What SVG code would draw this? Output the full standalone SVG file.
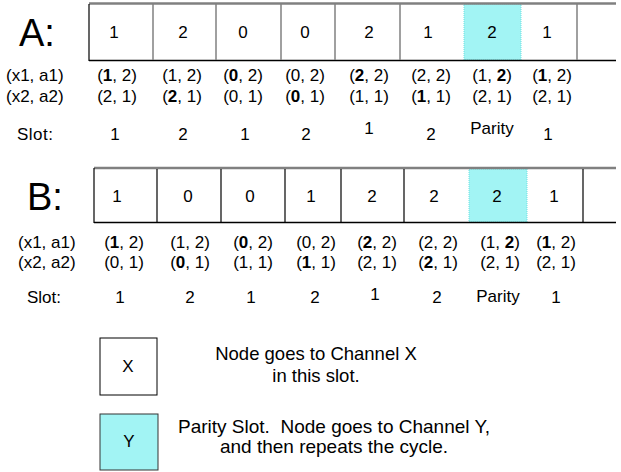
<svg xmlns="http://www.w3.org/2000/svg" width="621" height="472" viewBox="0 0 621 472">
<style>
text{font-family:"Liberation Sans",Arial,sans-serif;fill:#000}
.big{font-size:38px}
.c{font-size:17px;text-anchor:middle}
.t{font-size:17px;text-anchor:middle}
.l{font-size:17px}
.lg{font-size:18.5px;text-anchor:middle}
.lg2{font-size:19px;text-anchor:middle}
.top{stroke:#808080;stroke-width:2.5}
.bot{stroke:#000;stroke-width:1.5}
.gv{stroke:#808080;stroke-width:1.5}
.bv{stroke:#000;stroke-width:1.2}
.par{fill:#a2f4f4;stroke:#6ee0e0;stroke-width:1;stroke-dasharray:1 1}
</style>
<g id="rowA">
<text class="big" x="19" y="46">A:</text>
<rect class="par" x="464" y="4" width="57" height="56"/>
<line class="top" x1="89" y1="3.5" x2="616" y2="3.5"/>
<line class="bot" x1="89" y1="60.5" x2="616" y2="60.5"/>
<line class="bv" x1="89" y1="4" x2="89" y2="61"/>
<g class="gv">
<line x1="153" y1="4" x2="153" y2="60"/>
<line x1="216" y1="4" x2="216" y2="60"/>
<line x1="281" y1="4" x2="281" y2="60"/>
<line x1="335" y1="4" x2="335" y2="60"/>
<line x1="400" y1="4" x2="400" y2="60"/>
<line x1="577" y1="4" x2="577" y2="60"/>
</g>
<text class="c" x="114" y="38">1</text>
<text class="c" x="183" y="38">2</text>
<text class="c" x="243" y="38">0</text>
<text class="c" x="305" y="38">0</text>
<text class="c" x="369" y="38">2</text>
<text class="c" x="428" y="38">1</text>
<text class="c" x="492" y="38">2</text>
<text class="c" x="547" y="38">1</text>
<text class="l" x="6" y="81">(x1, a1)</text>
<text class="l" x="6" y="102">(x2, a2)</text>
<text class="t" x="117" y="81">(<tspan font-weight="bold">1</tspan>, 2)</text>
<text class="t" x="182" y="81">(1, 2)</text>
<text class="t" x="243" y="81">(<tspan font-weight="bold">0</tspan>, 2)</text>
<text class="t" x="305" y="81">(0, 2)</text>
<text class="t" x="369" y="81">(<tspan font-weight="bold">2</tspan>, 2)</text>
<text class="t" x="431" y="81">(2, 2)</text>
<text class="t" x="492" y="81">(1, <tspan font-weight="bold">2</tspan>)</text>
<text class="t" x="552" y="81">(<tspan font-weight="bold">1</tspan>, 2)</text>
<text class="t" x="117" y="102">(2, 1)</text>
<text class="t" x="182" y="102">(<tspan font-weight="bold">2</tspan>, 1)</text>
<text class="t" x="243" y="102">(0, 1)</text>
<text class="t" x="305" y="102">(<tspan font-weight="bold">0</tspan>, 1)</text>
<text class="t" x="369" y="102">(1, 1)</text>
<text class="t" x="431" y="102">(<tspan font-weight="bold">1</tspan>, 1)</text>
<text class="t" x="492" y="102">(2, 1)</text>
<text class="t" x="552" y="102">(2, 1)</text>
<text class="l" x="17" y="140" letter-spacing="0.5">Slot:</text>
<text class="c" x="115" y="140">1</text>
<text class="c" x="183" y="140">2</text>
<text class="c" x="245" y="140">1</text>
<text class="c" x="306" y="140">2</text>
<text class="c" x="369" y="134">1</text>
<text class="c" x="431" y="140">2</text>
<text class="c" x="492" y="134">Parity</text>
<text class="c" x="548" y="140">1</text>
</g>
<g id="rowB">
<text class="big" x="27" y="210">B:</text>
<rect class="par" x="469" y="169" width="58" height="53"/>
<line class="top" x1="94" y1="168" x2="616" y2="168"/>
<line class="bot" x1="94" y1="222.5" x2="616" y2="222.5"/>
<line class="bv" x1="94" y1="168" x2="94" y2="223"/>
<g class="bv">
<line x1="157" y1="169" x2="157" y2="222"/>
<line x1="221" y1="169" x2="221" y2="222"/>
<line x1="285" y1="169" x2="285" y2="222"/>
<line x1="341" y1="169" x2="341" y2="222"/>
<line x1="404" y1="169" x2="404" y2="222"/>
<line x1="583" y1="169" x2="583" y2="222"/>
</g>
<text class="c" x="117" y="202">1</text>
<text class="c" x="188" y="202">0</text>
<text class="c" x="250" y="202">0</text>
<text class="c" x="311" y="202">1</text>
<text class="c" x="372" y="202">2</text>
<text class="c" x="434" y="202">2</text>
<text class="c" x="497" y="202">2</text>
<text class="c" x="554" y="202">1</text>
<text class="l" x="18" y="248">(x1, a1)</text>
<text class="l" x="18" y="268">(x2, a2)</text>
<text class="t" x="124" y="248">(<tspan font-weight="bold">1</tspan>, 2)</text>
<text class="t" x="190" y="248">(1, 2)</text>
<text class="t" x="253" y="248">(<tspan font-weight="bold">0</tspan>, 2)</text>
<text class="t" x="316" y="248">(0, 2)</text>
<text class="t" x="377" y="248">(<tspan font-weight="bold">2</tspan>, 2)</text>
<text class="t" x="438" y="248">(2, 2)</text>
<text class="t" x="500" y="248">(1, <tspan font-weight="bold">2</tspan>)</text>
<text class="t" x="556" y="248">(<tspan font-weight="bold">1</tspan>, 2)</text>
<text class="t" x="124" y="268">(0, 1)</text>
<text class="t" x="190" y="268">(<tspan font-weight="bold">0</tspan>, 1)</text>
<text class="t" x="253" y="268">(1, 1)</text>
<text class="t" x="316" y="268">(<tspan font-weight="bold">1</tspan>, 1)</text>
<text class="t" x="377" y="268">(2, 1)</text>
<text class="t" x="438" y="268">(<tspan font-weight="bold">2</tspan>, 1)</text>
<text class="t" x="500" y="268">(2, 1)</text>
<text class="t" x="556" y="268">(2, 1)</text>
<text class="l" x="27" y="303">Slot:</text>
<text class="c" x="120" y="303">1</text>
<text class="c" x="190" y="303">2</text>
<text class="c" x="251" y="303">1</text>
<text class="c" x="315" y="303">2</text>
<text class="c" x="375" y="300">1</text>
<text class="c" x="437" y="303">2</text>
<text class="c" x="498" y="302">Parity</text>
<text class="c" x="556" y="303">1</text>
</g>
<g id="legendX">
<rect x="100" y="338" width="57" height="57" fill="#fff" stroke="#000" stroke-width="1"/>
<text class="c" x="128" y="372">X</text>
<text class="lg" x="316" y="360">Node goes to Channel X</text>
<text class="lg" x="316" y="382">in this slot.</text>
</g>
<g id="legendY">
<rect class="par" x="100" y="414" width="58" height="56" style="stroke:#333;stroke-dasharray:none"/>
<text class="c" x="129" y="447">Y</text>
<text class="lg2" x="334" y="433">Parity Slot.&#160; Node goes to Channel Y,</text>
<text class="lg2" x="334" y="453">and then repeats the cycle.</text>
</g>
</svg>
